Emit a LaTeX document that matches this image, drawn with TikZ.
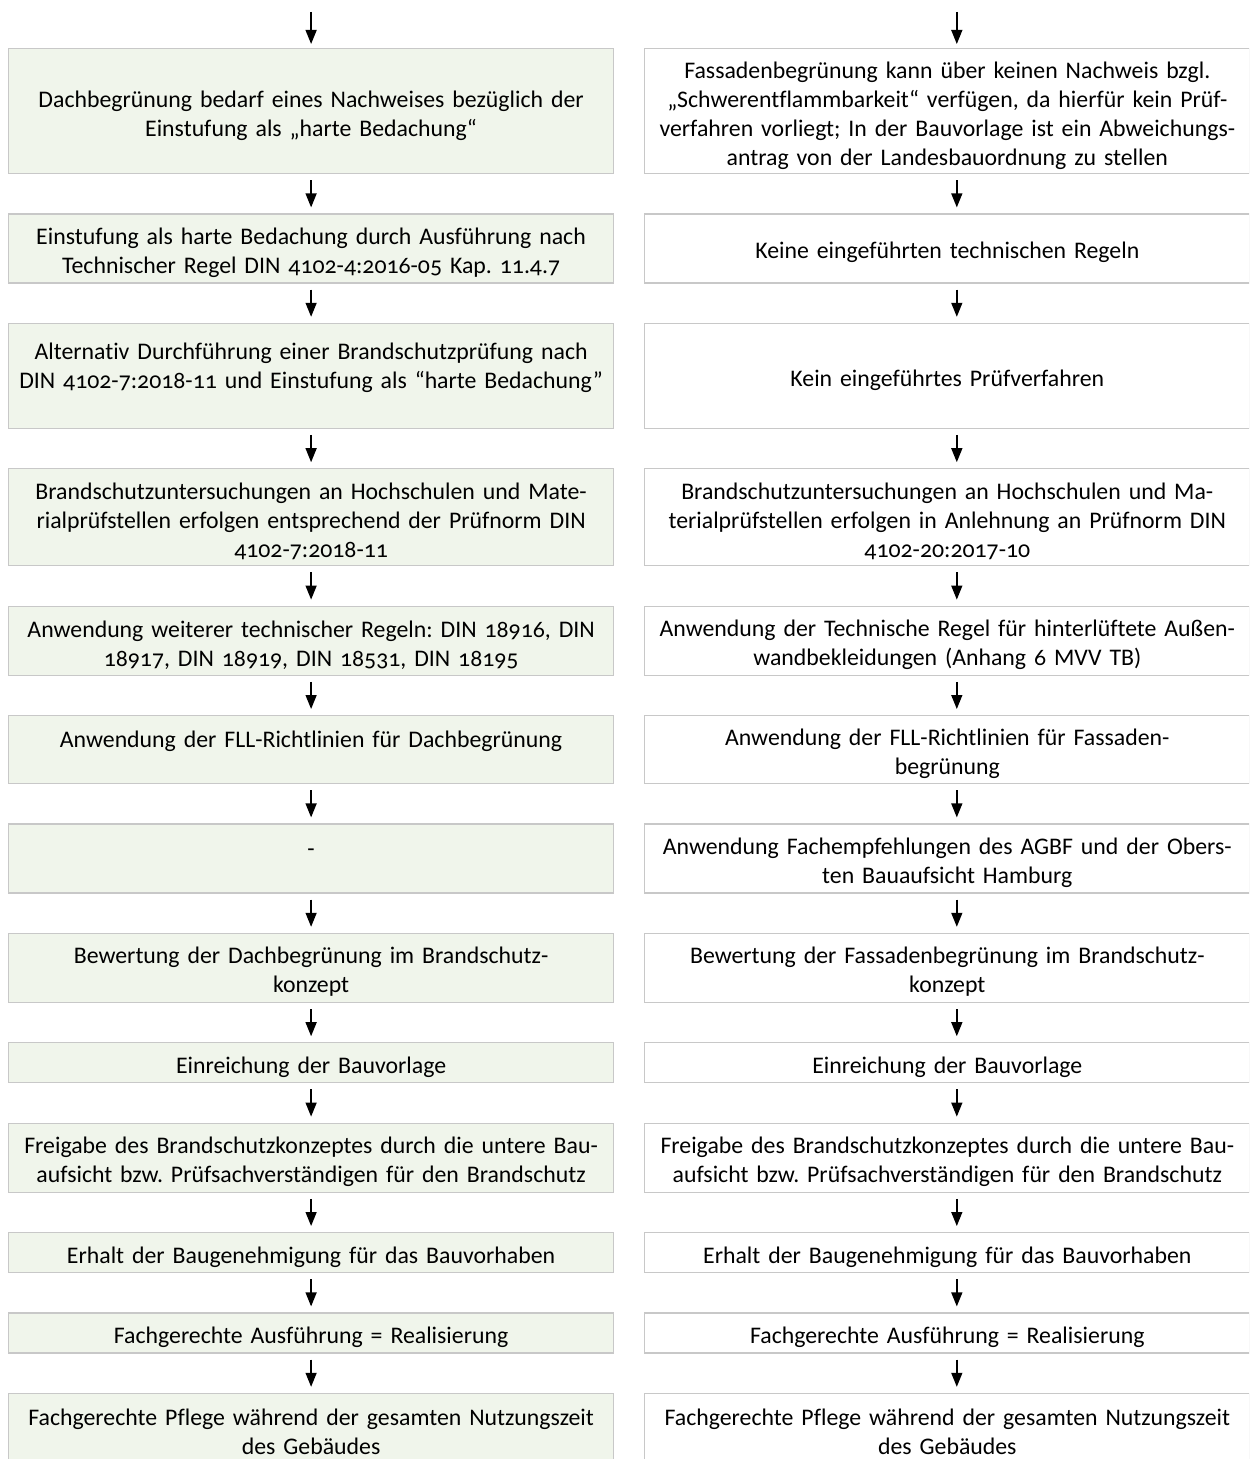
\documentclass[tikz,border=0pt]{standalone}
\usepackage{fontspec}
\setmainfont{Carlito}[Numbers=OldStyle, Ligatures=NoCommon]
\usetikzlibrary{positioning, arrows.meta}
\definecolor{dachgruen}{RGB}{240,245,235}
\definecolor{rahmengrau}{RGB}{200,200,200}
\frenchspacing
\tikzset{
node distance=19.6pt and 15pt, % gap between the boxes (vertical and horizontal)
schritt/.style={draw=rahmengrau, line width=0.6pt, minimum width=302.5pt, text width=294pt, align=center, inner xsep=0pt, inner ysep=0pt, text height=12.5pt, font=\fontsize{11.9}{14.5}\selectfont}, % every box of the flow
dach/.style={schritt, fill=dachgruen}, % left column, green roof
fassade/.style={schritt, fill=white}, % right column, green facade
pfeil/.style={-{Triangle[length=7pt,width=5.5pt]}, line width=0.7pt, shorten <=3pt, shorten >=3pt}, % the arrows between boxes
}

\begin{document}
\begin{tikzpicture}
              \useasboundingbox (0,0) rectangle (624.5pt,-729.5pt);
              \clip (0,0) rectangle (624.5pt,-729.5pt);

              % left column
              \node[dach, minimum height=62.5pt, anchor=north west] (l1) at (4pt,-24pt) {Dachbegrünung bedarf eines Nachweises bezüglich der\\Einstufung als „harte Bedachung“};
              \node[dach, minimum height=34.5pt, below=of l1] (l2) {Einstufung als harte Bedachung durch Ausführung nach\\Technischer Regel DIN 4102-4:2016-05 Kap. 11.4.7};
              \node[dach, minimum height=52.5pt, below=of l2] (l3) {Alternativ Durchführung einer Brandschutzprüfung nach\\DIN 4102-7:2018-11 und Einstufung als “harte Bedachung”\\\mbox{}};
              \node[dach, minimum height=48.5pt, below=of l3] (l4) {Brandschutzuntersuchungen an Hochschulen und Mate-\\rialprüfstellen erfolgen entsprechend der Prüfnorm DIN\\4102-7:2018-11};
              \node[dach, minimum height=34.5pt, below=of l4] (l5) {Anwendung weiterer technischer Regeln: DIN 18916, DIN\\18917, DIN 18919, DIN 18531, DIN 18195};
              \node[dach, minimum height=34pt, below=of l5] (l6) {Anwendung der FLL-Richtlinien für Dachbegrünung\\\mbox{}};
              \node[dach, minimum height=34.5pt, below=of l6] (l7) {-\\\mbox{}};
              \node[dach, minimum height=34.5pt, below=of l7] (l8) {Bewertung der Dachbegrünung im Brandschutz-\\konzept};
              \node[dach, minimum height=20pt, below=of l8] (l9) {Einreichung der Bauvorlage};
              \node[dach, minimum height=34.5pt, below=of l9] (l10) {Freigabe des Brandschutzkonzeptes durch die untere Bau-\\aufsicht bzw. Prüfsachverständigen für den Brandschutz};
              \node[dach, minimum height=20pt, below=of l10] (l11) {Erhalt der Baugenehmigung für das Bauvorhaben};
              \node[dach, minimum height=20pt, below=of l11] (l12) {Fachgerechte Ausführung = Realisierung};
              \node[dach, minimum height=34.5pt, below=of l12] (l13) {Fachgerechte Pflege während der gesamten Nutzungszeit\\des Gebäudes};

              % right column
              \node[fassade, minimum height=62.5pt, right=of l1] (r1) {Fassadenbegrünung kann über keinen Nachweis bzgl.\\„Schwerentflammbarkeit“ verfügen, da hierfür kein Prüf-\\verfahren vorliegt; In der Bauvorlage ist ein Abweichungs-\\antrag von der Landesbauordnung zu stellen};
              \node[fassade, minimum height=34.5pt, right=of l2] (r2) {Keine eingeführten technischen Regeln};
              \node[fassade, minimum height=52.5pt, right=of l3] (r3) {Kein eingeführtes Prüfverfahren};
              \node[fassade, minimum height=48.5pt, right=of l4] (r4) {Brandschutzuntersuchungen an Hochschulen und Ma-\\terialprüfstellen erfolgen in Anlehnung an Prüfnorm DIN\\4102-20:2017-10};
              \node[fassade, minimum height=34.5pt, right=of l5] (r5) {Anwendung der Technische Regel für hinterlüftete Außen-\\wandbekleidungen (Anhang 6 MVV TB)};
              \node[fassade, minimum height=34pt, right=of l6] (r6) {Anwendung der FLL-Richtlinien für Fassaden-\\begrünung};
              \node[fassade, minimum height=34.5pt, right=of l7] (r7) {Anwendung Fachempfehlungen des AGBF und der Obers-\\ten Bauaufsicht Hamburg};
              \node[fassade, minimum height=34.5pt, right=of l8] (r8) {Bewertung der Fassadenbegrünung im Brandschutz-\\konzept};
              \node[fassade, minimum height=20pt, right=of l9] (r9) {Einreichung der Bauvorlage};
              \node[fassade, minimum height=34.5pt, right=of l10] (r10) {Freigabe des Brandschutzkonzeptes durch die untere Bau-\\aufsicht bzw. Prüfsachverständigen für den Brandschutz};
              \node[fassade, minimum height=20pt, right=of l11] (r11) {Erhalt der Baugenehmigung für das Bauvorhaben};
              \node[fassade, minimum height=20pt, right=of l12] (r12) {Fachgerechte Ausführung = Realisierung};
              \node[fassade, minimum height=34.5pt, right=of l13] (r13) {Fachgerechte Pflege während der gesamten Nutzungszeit\\des Gebäudes};

              \coordinate[above=21pt of l1.north] (lstart);
              \coordinate[above=21pt of r1.north, xshift=4.75pt] (rstart);

              \path[pfeil]
              (lstart) edge ([yshift=-1pt]l1.north)
              (l1) edge (l2)
              (l2) edge (l3)
              (l3) edge (l4)
              (l4) edge (l5)
              (l5) edge (l6)
              (l6) edge (l7)
              (l7) edge (l8)
              (l8) edge (l9)
              (l9) edge (l10)
              (l10) edge (l11)
              (l11) edge (l12)
              (l12) edge (l13)

              (rstart) edge ([xshift=4.75pt,yshift=-1pt]r1.north)
              ([xshift=4.75pt]r1.south) edge ([xshift=4.75pt]r2.north)
              ([xshift=4.75pt]r2.south) edge ([xshift=4.75pt]r3.north)
              ([xshift=4.75pt]r3.south) edge ([xshift=4.75pt]r4.north)
              ([xshift=4.75pt]r4.south) edge ([xshift=4.75pt]r5.north)
              ([xshift=4.75pt]r5.south) edge ([xshift=4.75pt]r6.north)
              ([xshift=4.75pt]r6.south) edge ([xshift=4.75pt]r7.north)
              ([xshift=4.75pt]r7.south) edge ([xshift=4.75pt]r8.north)
              ([xshift=4.75pt]r8.south) edge ([xshift=4.75pt]r9.north)
              ([xshift=4.75pt]r9.south) edge ([xshift=4.75pt]r10.north)
              ([xshift=4.75pt]r10.south) edge ([xshift=4.75pt]r11.north)
              ([xshift=4.75pt]r11.south) edge ([xshift=4.75pt]r12.north)
              ([xshift=4.75pt]r12.south) edge ([xshift=4.75pt]r13.north)
              ;
\end{tikzpicture}
\end{document}
